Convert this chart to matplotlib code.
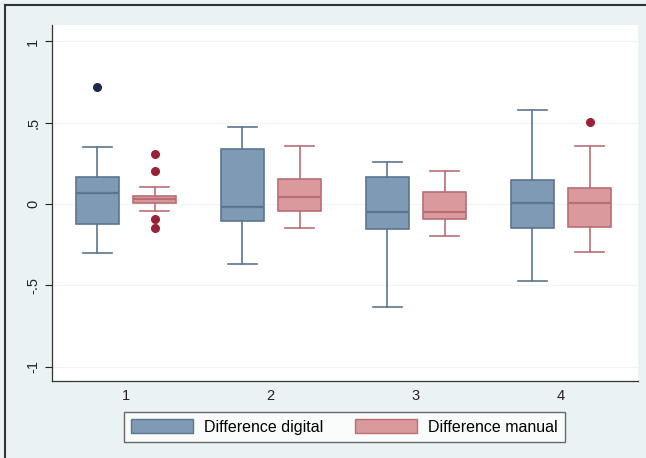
import matplotlib
matplotlib.use('Agg')
import matplotlib.pyplot as plt
from matplotlib.patches import Patch
from matplotlib.lines import Line2D

# One entry per group (1..4)
groups = [1, 2, 3, 4]
series = ['Difference digital', 'Difference manual']

digital_whislo = [-0.30, -0.37, -0.63, -0.47]
digital_q1 = [-0.125, -0.104, -0.155, -0.145]
digital_med = [0.07, -0.016, -0.051, 0.008]
digital_q3 = [0.167, 0.337, 0.164, 0.151]
digital_whishi = [0.35, 0.474, 0.26, 0.577]
digital_fliers = [[0.72], [], [], []]

manual_whislo = [-0.043, -0.145, -0.194, -0.296]
manual_q1 = [0.004, -0.043, -0.094, -0.139]
manual_med = [0.029, 0.041, -0.047, 0.004]
manual_q3 = [0.051, 0.153, 0.076, 0.102]
manual_whishi = [0.106, 0.356, 0.204, 0.356]
manual_fliers = [[0.307, 0.204, -0.094, -0.145], [], [], [0.503]]

yticks = [-1, -0.5, 0, 0.5, 1]
ytick_labels = ['-1', '-.5', '0', '.5', '1']

plt.rcParams['font.family'] = ['Liberation Sans', 'DejaVu Sans']

fig = plt.figure(figsize=(6.46, 4.58), dpi=100, facecolor='#EAF2F3')
ax = fig.add_axes([0.0805, 0.168, 0.9075, 0.777])
ax.set_facecolor('white')


def make_stats(lo, q1, med, q3, hi, fl):
    return [dict(whislo=lo[i], q1=q1[i], med=med[i], q3=q3[i], whishi=hi[i],
                 fliers=fl[i]) for i in range(len(lo))]


styles = [
    dict(face='#7F9AB5', edge='#5B7590', dot='#1B2A4A', off=-0.195),
    dict(face='#D9999D', edge='#B86E74', dot='#9A2236', off=0.20),
]
stats_all = [
    make_stats(digital_whislo, digital_q1, digital_med, digital_q3, digital_whishi, digital_fliers),
    make_stats(manual_whislo, manual_q1, manual_med, manual_q3, manual_whishi, manual_fliers),
]

for st, sty in zip(stats_all, styles):
    pos = [g + sty['off'] for g in groups]
    ax.bxp(st, positions=pos, widths=0.295, patch_artist=True, manage_ticks=False,
           boxprops=dict(facecolor=sty['face'], edgecolor=sty['edge'], linewidth=1.2),
           medianprops=dict(color=sty['edge'], linewidth=1.6),
           whiskerprops=dict(color=sty['edge'], linewidth=1.2),
           capprops=dict(color=sty['edge'], linewidth=1.2),
           capwidths=0.2,
           flierprops=dict(marker='o', markersize=5.5, markerfacecolor=sty['dot'],
                           markeredgecolor=sty['dot']))

ax.set_xlim(0.493, 4.534)
ax.set_ylim(-1.088, 1.1)
ax.set_xticks(groups)
ax.set_xticklabels([str(g) for g in groups])
ax.set_yticks(yticks)
ax.set_yticklabels(ytick_labels, rotation=90, va='center')
ax.tick_params(axis='both', labelsize=10.5, colors='#222222', length=5, width=0.8)
ax.tick_params(axis='x', length=0, pad=6)
ax.yaxis.grid(True, color='#F1F5F5', linewidth=0.8)
ax.set_axisbelow(True)
for s in ['top', 'right']:
    ax.spines[s].set_visible(False)
for s in ['left', 'bottom']:
    ax.spines[s].set_color('#333333')
    ax.spines[s].set_linewidth(0.9)

handles = [Patch(facecolor=styles[0]['face'], edgecolor=styles[0]['edge']),
           Patch(facecolor=styles[1]['face'], edgecolor=styles[1]['edge'])]
leg = fig.legend(handles, series, loc='center', bbox_to_anchor=(0.533, 0.068), ncol=2,
                 frameon=True, fancybox=False, fontsize=11.5, handlelength=3.9,
                 handleheight=0.95, columnspacing=1.95, handletextpad=0.7,
                 borderpad=0.45)
leg.get_frame().set_edgecolor('#444444')
leg.get_frame().set_linewidth(1.0)

# outer border lines (left and top)
fig.add_artist(Line2D([5 / 646, 5 / 646], [0, 1 - 5 / 458], color='#333333', linewidth=1.5))
fig.add_artist(Line2D([5 / 646, 1], [1 - 5 / 458, 1 - 5 / 458], color='#333333', linewidth=1.5))

plt.savefig('out.png', dpi=100, facecolor=fig.get_facecolor())
